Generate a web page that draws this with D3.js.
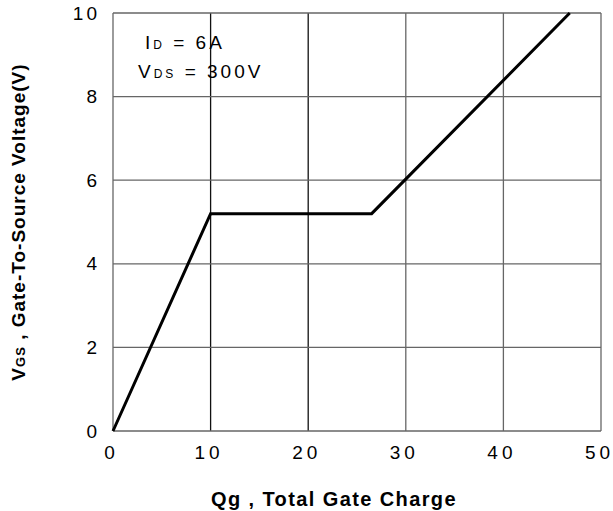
<!DOCTYPE html>
<html>
<head>
<meta charset="utf-8">
<script src="https://cdn.jsdelivr.net/npm/d3@7"></script>
<style>
  body { margin: 0; background: #fff; }
  text { font-family: "Liberation Sans", Arial, sans-serif; }
</style>
</head>
<body>
<script>
// gate charge curve
var qg = [0, 10, 26.5, 46.8];
var vgs = [0, 5.2, 5.2, 10];
var xTicks = [0, 10, 20, 30, 40, 50];
var yTicks = [0, 2, 4, 6, 8, 10];

var margin = {top: 13, right: 12, bottom: 80, left: 113},
    width = 613 - margin.left - margin.right,
    height = 511 - margin.top - margin.bottom;

var x = d3.scaleLinear().domain([0, 50]).range([0, width]);
var y = d3.scaleLinear().domain([0, 10]).range([height, 0]);

var svg = d3.select("body").append("svg")
    .attr("width", 613)
    .attr("height", 511)
  .append("g")
    .attr("transform", "translate(" + margin.left + "," + margin.top + ")");

// grid
svg.selectAll(".vgrid")
    .data(xTicks)
  .enter().append("line")
    .attr("x1", function(d) { return x(d); })
    .attr("x2", function(d) { return x(d); })
    .attr("y1", 0)
    .attr("y2", height)
    .attr("stroke", function(d) { return (d == 10 || d == 20) ? "#111" : "#666"; })
    .attr("stroke-width", 1.3);

svg.selectAll(".hgrid")
    .data(yTicks)
  .enter().append("line")
    .attr("x1", 0)
    .attr("x2", width)
    .attr("y1", function(d) { return y(d); })
    .attr("y2", function(d) { return y(d); })
    .attr("stroke", "#666")
    .attr("stroke-width", 1.3);

// x axis labels
var xAxis = svg.append("g")
    .attr("transform", "translate(0," + height + ")")
    .call(d3.axisBottom(x).tickValues(xTicks).tickSize(0).tickFormat(d3.format("d")));
xAxis.select(".domain").remove();
xAxis.selectAll("text")
    .attr("y", 28)
    .attr("dy", 0)
    .attr("dx", -2)
    .attr("font-size", 19)
    .attr("letter-spacing", 4)
    .attr("fill", "#000")
    .style("font-family", "'Liberation Sans', Arial, sans-serif");

// y axis labels
var yAxis = svg.append("g")
    .call(d3.axisLeft(y).tickValues(yTicks).tickSize(0).tickPadding(13).tickFormat(d3.format("d")));
yAxis.select(".domain").remove();
yAxis.selectAll("text")
    .attr("font-size", 19)
    .attr("letter-spacing", 3)
    .attr("fill", "#000")
    .style("font-family", "'Liberation Sans', Arial, sans-serif");

// curve
var line = d3.line()
    .x(function(d, i) { return x(qg[i]); })
    .y(function(d, i) { return y(vgs[i]); });

svg.append("path")
    .datum(qg)
    .attr("fill", "none")
    .attr("stroke", "#000")
    .attr("stroke-width", 3)
    .attr("stroke-linejoin", "miter")
    .attr("d", line);

// conditions
var note = svg.append("g").attr("font-size", 19).attr("letter-spacing", 3);
var t1 = note.append("text").attr("x", 32).attr("y", 36);
t1.append("tspan").text("I");
t1.append("tspan").attr("font-size", 12).text("D");
t1.append("tspan").text(" = 6A");
var t2 = note.append("text").attr("x", 25).attr("y", 65);
t2.append("tspan").text("V");
t2.append("tspan").attr("font-size", 12).text("DS");
t2.append("tspan").text(" = 300V");

// axis titles
svg.append("text")
    .attr("x", 334 - margin.left)
    .attr("y", height + 75)
    .attr("text-anchor", "middle")
    .attr("font-size", 20)
    .attr("letter-spacing", 1.4)
    .attr("font-weight", "bold")
    .text("Qg , Total Gate Charge");

var yt = svg.append("text")
    .attr("transform", "translate(" + (-88) + "," + (222 - margin.top) + ") rotate(-90)")
    .attr("text-anchor", "middle")
    .attr("font-size", 19)
    .attr("letter-spacing", 1)
    .attr("font-weight", "bold");
yt.append("tspan").text("V");
yt.append("tspan").attr("font-size", 13).text("GS");
yt.append("tspan").text(" , Gate-To-Source Voltage(V)");
</script>
</body>
</html>
